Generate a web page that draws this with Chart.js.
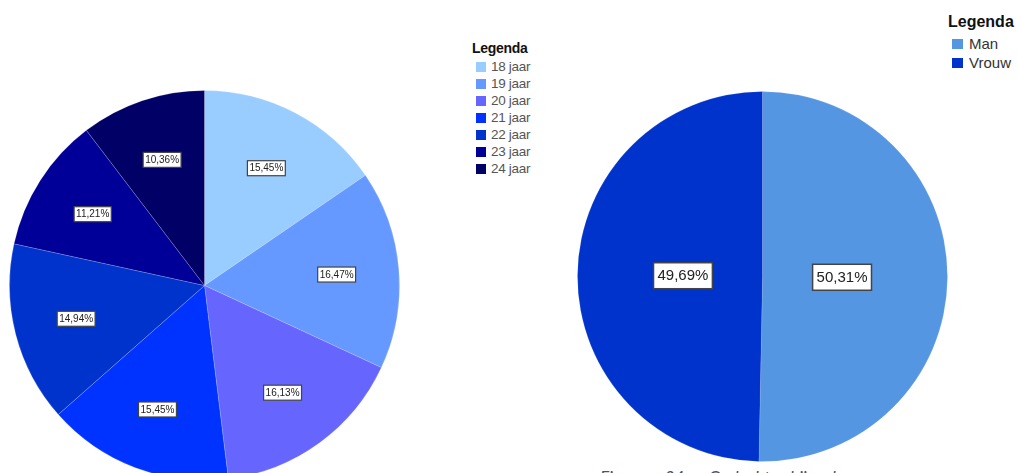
<!DOCTYPE html>
<html>
<head>
<meta charset="utf-8">
<script src="https://cdn.jsdelivr.net/npm/chart.js@4"></script>
<style>
  body { margin: 0; width: 1017px; height: 473px; overflow: hidden; background: #fff; position: relative; font-family: 'Liberation Sans', Arial, sans-serif; }
  canvas { position: absolute; }
  #ageChart { left: 9px; top: 90px; }
  #sexChart { left: 577px; top: 91px; }
  .legend { position: absolute; }
  .legend .title { font-weight: bold; color: #111; }
  .legend .item { display: flex; align-items: center; color: #555; }
  .legend .sw { display: inline-block; }
  #ageLegend { left: 472px; top: 40px; }
  #ageLegend .title { font-size: 14px; line-height: 16px; margin-bottom: 2px; letter-spacing: -0.3px; }
  #ageLegend .item { font-size: 13.5px; height: 17px; padding-left: 4px; letter-spacing: -0.3px; }
  #ageLegend .sw { width: 10px; height: 10px; margin-right: 5px; }
  #sexLegend { left: 948px; top: 12px; }
  #sexLegend .title { font-size: 16px; line-height: 19px; margin-bottom: 3px; }
  #sexLegend .item { font-size: 15px; height: 19px; padding-left: 4px; color: #333; }
  #sexLegend .sw { width: 11px; height: 10px; margin-right: 6px; }
  #caption { position: absolute; left: 600px; top: 469px; font-family: Lato, 'Open Sans', sans-serif; font-style: italic; font-size: 17px; line-height: 17px; word-spacing: 16px; color: #44546a; white-space: nowrap; }
</style>
</head>
<body>
<canvas id="ageChart" width="391" height="391"></canvas>
<canvas id="sexChart" width="371" height="371"></canvas>
<div id="ageLegend" class="legend"></div>
<div id="sexLegend" class="legend"></div>
<div id="caption">Figuur 24: Geslacht bij de</div>
<script>
// leeftijd
const ageLabels = ['18 jaar', '19 jaar', '20 jaar', '21 jaar', '22 jaar', '23 jaar', '24 jaar'];
const agePercent = [15.45, 16.47, 16.13, 15.45, 14.94, 11.21, 10.36];
const ageColors = ['#99ccff', '#6699ff', '#6666ff', '#0033ff', '#0033cc', '#000099', '#000066'];

// geslacht
const sexLabels = ['Man', 'Vrouw'];
const sexPercent = [50.31, 49.69];
const sexColors = ['#5596e3', '#0033cc'];

// witte kaders met het percentage in elk taartpunt
const labelBoxes = {
    id: 'labelBoxes',
    afterDatasetsDraw(chart, args, opts) {
        const ctx = chart.ctx;
        const meta = chart.getDatasetMeta(0);
        const values = chart.data.datasets[0].data;
        ctx.save();
        ctx.font = opts.size + 'px "Liberation Sans", Arial, sans-serif';
        ctx.textAlign = 'center';
        ctx.textBaseline = 'middle';
        meta.data.forEach((arc, i) => {
            const { x, y, startAngle, endAngle, outerRadius } = arc.getProps(['x', 'y', 'startAngle', 'endAngle', 'outerRadius'], true);
            const mid = (startAngle + endAngle) / 2;
            const r = outerRadius * opts.radius;
            const cx = x + Math.cos(mid) * r;
            const cy = y + Math.sin(mid) * r;
            const text = values[i].toFixed(2).replace('.', ',') + '%';
            const w = ctx.measureText(text).width + opts.padX * 2;
            const h = opts.height;
            ctx.fillStyle = '#fff';
            ctx.fillRect(cx - w / 2, cy - h / 2, w, h);
            ctx.strokeStyle = '#444';
            ctx.lineWidth = opts.border;
            ctx.strokeRect(cx - w / 2, cy - h / 2, w, h);
            ctx.fillStyle = '#222';
            ctx.fillText(text, cx, cy + 0.5);
        });
        ctx.restore();
    }
};

function pieChart(id, labels, values, colors, boxOpts, borderColor) {
    return new Chart(document.getElementById(id), {
        type: 'pie',
        data: {
            labels: labels,
            datasets: [{
                data: values,
                backgroundColor: colors,
                borderColor: borderColor,
                borderWidth: 1
            }]
        },
        options: {
            responsive: false,
            animation: false,
            devicePixelRatio: 1,
            layout: { padding: 0 },
            plugins: {
                legend: { display: false },
                tooltip: { enabled: false },
                labelBoxes: boxOpts
            }
        },
        plugins: [labelBoxes]
    });
}

pieChart('ageChart', ageLabels, agePercent, ageColors, { size: 10, radius: 0.68, padX: 2, height: 15, border: 1.2 }, 'rgba(255,255,255,0.18)');
pieChart('sexChart', sexLabels, sexPercent, sexColors, { size: 15, radius: 0.43, padX: 4, height: 26, border: 1.5 }, 'rgba(255,255,255,0.12)');

function buildLegend(id, labels, colors) {
    const el = document.getElementById(id);
    el.innerHTML = '<div class="title">Legenda</div>' + labels.map((l, i) =>
        '<div class="item"><span class="sw" style="background:' + colors[i] + '"></span>' + l + '</div>').join('');
}
buildLegend('ageLegend', ageLabels, ageColors);
buildLegend('sexLegend', sexLabels, sexColors);
</script>
</body>
</html>
